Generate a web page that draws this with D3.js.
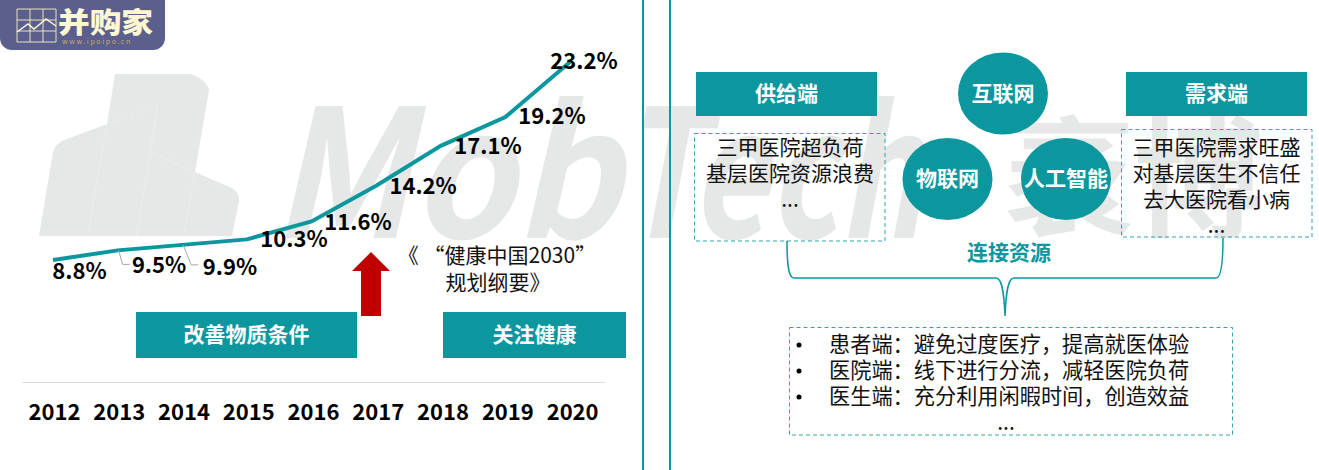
<!DOCTYPE html>
<html>
<head>
<meta charset="utf-8">
<script src="https://cdn.jsdelivr.net/npm/d3@7"></script>
<style>
html, body { margin: 0; padding: 0; background: #fff; }
svg { display: block; }
text { font-family: "Noto Sans CJK SC", "Noto Sans", sans-serif; }
</style>
</head>
<body>
<div id="chart"></div>
<script>
const years = ['2012', '2013', '2014', '2015', '2016', '2017', '2018', '2019', '2020'];
const shares = [8.8, 9.5, 9.9, 10.3, 11.6, 14.2, 17.1, 19.2, 23.2];

const supplyLines = ['三甲医院超负荷', '基层医院资源浪费', '...'];
const demandLines = ['三甲医院需求旺盛', '对基层医生不信任', '去大医院看小病', '...'];
const benefitLines = ['患者端：避免过度医疗，提高就医体验', '医院端：线下进行分流，减轻医院负荷', '医生端：充分利用闲暇时间，创造效益'];
const techNames = ['互联网', '物联网', '人工智能'];

const teal = '#0c979e';
const width = 1319, height = 470;

const svg = d3.select('#chart').append('svg')
    .attr('width', width)
    .attr('height', height);

// watermark first, everything else sits on top of it
const mark = svg.append('g').attr('fill', '#e6e7e7');
mark.append('path')
    .attr('d', 'M115,74 L190,74 Q207,80 209,90 L195,172 L232,188 Q240,193 239,201 L232,236 L39,236 L53,152 Q55,144 64,140 L107,124 Z');
mark.append('path')
    .attr('d', 'M107,124 L158,105 L150,152 L195,172 M107,124 L88,236 M158,105 L136,236 M195,172 L184,236')
    .attr('fill', 'none')
    .attr('stroke', '#eeefef')
    .attr('stroke-width', 1)
    .attr('stroke-dasharray', '5,3');
mark.append('text')
    .attr('x', 270)
    .attr('y', 238)
    .attr('font-family', '"Liberation Sans", sans-serif')
    .attr('font-size', 178)
    .attr('font-weight', 'bold')
    .attr('font-style', 'italic')
    .attr('textLength', 350)
    .attr('lengthAdjust', 'spacingAndGlyphs')
    .text('Mob');
mark.append('text')
    .attr('x', 618)
    .attr('y', 238)
    .attr('font-family', '"Liberation Sans", sans-serif')
    .attr('font-size', 178)
    .attr('font-weight', 'bold')
    .attr('font-style', 'italic')
    .attr('textLength', 305)
    .attr('lengthAdjust', 'spacingAndGlyphs')
    .text('Tech');
mark.append('text')
    .attr('x', 1004)
    .attr('y', 226)
    .attr('font-size', 130)
    .attr('font-weight', 'bold')
    .text('袤博');

// logo
const logo = svg.append('g');
logo.append('rect')
    .attr('x', 0).attr('y', -20)
    .attr('width', 165).attr('height', 70)
    .attr('rx', 12)
    .attr('fill', '#5a5f8e');
const gridX = d3.scaleLinear().domain([0, 3]).range([17, 56]);
const gridY = d3.scaleLinear().domain([0, 3]).range([9, 42]);
logo.append('g').selectAll('line.v').data(d3.range(4)).enter().append('line')
    .attr('x1', d => gridX(d)).attr('x2', d => gridX(d))
    .attr('y1', 9).attr('y2', 42)
    .attr('stroke', '#e9e3bd').attr('stroke-width', 1);
logo.append('g').selectAll('line.h').data(d3.range(4)).enter().append('line')
    .attr('y1', d => gridY(d)).attr('y2', d => gridY(d))
    .attr('x1', 17).attr('x2', 56)
    .attr('stroke', '#e9e3bd').attr('stroke-width', 1);
logo.append('path')
    .attr('d', 'M17,32 L28,24 L34,29 L46,19 L56,26')
    .attr('fill', 'none').attr('stroke', '#fff6d2').attr('stroke-width', 1.5);
logo.append('text')
    .attr('x', 58).attr('y', 33)
    .attr('font-size', 28).attr('font-weight', 900)
    .attr('textLength', 95)
    .attr('lengthAdjust', 'spacingAndGlyphs')
    .attr('fill', '#fff6d2')
    .text('并购家');
logo.append('text')
    .attr('x', 62).attr('y', 44)
    .attr('font-family', '"Liberation Sans", sans-serif')
    .attr('font-size', 7).attr('letter-spacing', 1.6)
    .attr('fill', '#c9a96a')
    .text('www.ipoipo.cn');

// dividers
svg.selectAll('line.divider')
    .data([643, 670])
    .enter().append('line')
    .attr('class', 'divider')
    .attr('x1', d => d).attr('x2', d => d)
    .attr('y1', 0).attr('y2', height)
    .attr('stroke', teal)
    .attr('stroke-width', 2);

// left panel
const x = d3.scalePoint().domain(years).range([53, 570]);
const xAxisScale = d3.scaleBand().domain(years).range([22, 605]);
const y = d3.scaleLinear().domain([8.8, 23.2]).range([260, 62]);

const xAxis = d3.axisBottom(xAxisScale).tickSize(0).tickPadding(18);
const axisG = svg.append('g')
    .attr('class', 'x-axis')
    .attr('transform', 'translate(0,386)')
    .call(xAxis);
axisG.select('.domain')
    .attr('transform', 'translate(0,-4)')
    .attr('stroke', '#d9d9d9')
    .attr('stroke-width', 1);
axisG.selectAll('text')
    .style('font-size', '22px')
    .style('font-weight', 'bold')
    .style('fill', '#000');

const line = d3.line()
    .x((d, i) => x(years[i]))
    .y(d => y(d));

svg.append('path')
    .datum(shares)
    .attr('class', 'line')
    .attr('fill', 'none')
    .attr('stroke', teal)
    .attr('stroke-width', 4)
    .attr('d', line);

// leader lines for 2013 and 2014
[[1, 5, 14, 12], [2, 9, 20, 16]].forEach(([i, bend, drop, end]) => {
    const px = x(years[i]), py = y(shares[i]);
    svg.append('path')
        .attr('d', `M${px + 1},${py} L${px + bend},${py + drop} L${px + end},${py + drop}`)
        .attr('fill', 'none')
        .attr('stroke', '#a6a6a6')
        .attr('stroke-width', 1);
});

const labelDx = [26.5, 41.4, 47.7, 47.1, 46.5, 47, 47.2, 46.6, 14];
const labelDy = [11, 14.5, 22, 0, 1, 1, 0, -1, -1];

svg.selectAll('.value-label')
    .data(shares)
    .enter().append('text')
    .attr('class', 'value-label')
    .attr('x', (d, i) => x(years[i]) + labelDx[i])
    .attr('y', (d, i) => y(d) + labelDy[i])
    .attr('dy', '.35em')
    .attr('text-anchor', 'middle')
    .attr('font-size', 22)
    .attr('font-weight', 'bold')
    .attr('fill', '#000')
    .text(d => d.toFixed(1) + '%');

function banner(x0, y0, w, h, label) {
    svg.append('rect')
        .attr('x', x0).attr('y', y0)
        .attr('width', w).attr('height', h)
        .attr('fill', teal);
    svg.append('text')
        .attr('x', x0 + w / 2).attr('y', y0 + h / 2)
        .attr('dy', '.35em')
        .attr('text-anchor', 'middle')
        .attr('font-size', 21)
        .attr('font-weight', 'bold')
        .attr('fill', '#fff')
        .text(label);
}

banner(136, 312, 221, 46, '改善物质条件');
banner(443, 312, 183, 46, '关注健康');

svg.append('path')
    .attr('d', 'M371,252 L390,271 L381,271 L381,316 L361,316 L361,271 L352,271 Z')
    .attr('fill', '#c00000');

svg.append('text')
    .attr('x', 497).attr('y', 263)
    .attr('text-anchor', 'middle')
    .attr('font-size', 21)
    .attr('fill', '#111')
    .text('《 “健康中国2030”');
svg.append('text')
    .attr('x', 498).attr('y', 290)
    .attr('text-anchor', 'middle')
    .attr('font-size', 21)
    .attr('fill', '#111')
    .text('规划纲要》');

// right panel
banner(696, 72, 181, 44, '供给端');
banner(1126, 72, 181, 44, '需求端');

const techX = [1003, 947.5, 1066];
const techY = [93.5, 179, 179];

svg.selectAll('ellipse.tech')
    .data(techNames)
    .enter().append('ellipse')
    .attr('class', 'tech')
    .attr('cx', (d, i) => techX[i])
    .attr('cy', (d, i) => techY[i])
    .attr('rx', 45)
    .attr('ry', 41)
    .attr('fill', teal);

svg.selectAll('text.tech-label')
    .data(techNames)
    .enter().append('text')
    .attr('class', 'tech-label')
    .attr('x', (d, i) => techX[i])
    .attr('y', (d, i) => techY[i])
    .attr('dy', '.35em')
    .attr('text-anchor', 'middle')
    .attr('font-size', 21)
    .attr('font-weight', 'bold')
    .attr('fill', '#fff')
    .text(d => d);

function dashedBox(x0, y0, w, h) {
    svg.append('rect')
        .attr('x', x0).attr('y', y0)
        .attr('width', w).attr('height', h)
        .attr('fill', 'none')
        .attr('stroke', '#2fa5ab')
        .attr('stroke-width', 1)
        .attr('stroke-dasharray', '4,3');
}

function textLines(lines, cx, y0) {
    svg.selectAll(null)
        .data(lines)
        .enter().append('text')
        .attr('x', cx)
        .attr('y', (d, i) => y0 + i * 26)
        .attr('dy', '.35em')
        .attr('text-anchor', 'middle')
        .attr('font-size', 21)
        .attr('fill', '#111')
        .text(d => d);
}

dashedBox(694.5, 133.5, 190.5, 107.5);
textLines(supplyLines, 790, 148);
dashedBox(1121.5, 129.5, 190.5, 107.5);
textLines(demandLines, 1216.5, 148);

// brace from both boxes down to the benefits box
svg.append('path')
    .attr('d', 'M787,241 C787,262 788,278 794,278 L996,278 C1002,278 1004,292 1005,316 C1006,292 1008,278 1014,278 L1216,278 C1221,278 1223,262 1223,238')
    .attr('fill', 'none')
    .attr('stroke', teal)
    .attr('stroke-width', 1.5);

svg.append('text')
    .attr('x', 1009).attr('y', 253)
    .attr('dy', '.35em')
    .attr('text-anchor', 'middle')
    .attr('font-size', 21)
    .attr('font-weight', 'bold')
    .attr('fill', teal)
    .text('连接资源');

dashedBox(789.5, 327.5, 443, 107.5);

svg.selectAll('text.benefit')
    .data(benefitLines)
    .enter().append('text')
    .attr('class', 'benefit')
    .attr('x', 829)
    .attr('y', (d, i) => 345 + i * 26)
    .attr('dy', '.35em')
    .attr('font-size', 21.2)
    .attr('fill', '#111')
    .text(d => d);

svg.selectAll('circle.bullet')
    .data(benefitLines)
    .enter().append('circle')
    .attr('class', 'bullet')
    .attr('cx', 799)
    .attr('cy', (d, i) => 345 + i * 26)
    .attr('r', 2.5)
    .attr('fill', '#000');

svg.append('text')
    .attr('x', 1006).attr('y', 423)
    .attr('dy', '.35em')
    .attr('text-anchor', 'middle')
    .attr('font-size', 21)
    .attr('fill', '#111')
    .text('...');
</script>
</body>
</html>
